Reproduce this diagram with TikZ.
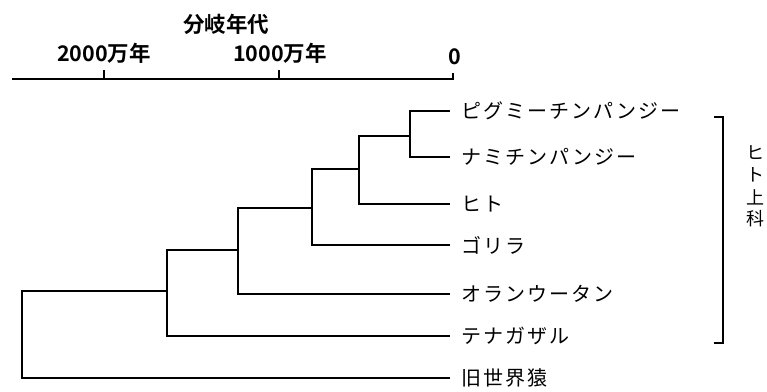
\documentclass[tikz,border=0pt]{standalone}
\usepackage{fontspec}
\setmainfont{Noto Sans CJK JP}
\newfontfamily\lblfont[LetterSpace=10]{Noto Sans CJK JP}
\newfontfamily\axfont{Noto Sans CJK JP Bold}
\begin{document}
\begin{tikzpicture}[x=1pt,y=-1pt,
  branch/.style={line width=1.3pt, line cap=rect},
  axisline/.style={line width=2.4pt},
  leaf/.style={anchor=west, inner sep=0pt, font=\lblfont\fontsize{20}{22}\selectfont},
  axlabel/.style={inner sep=0pt, font=\axfont\fontsize{21.5}{23}\selectfont},
  vchar/.style={inner sep=0pt, font=\fontsize{18}{19}\selectfont}]
\useasboundingbox (0,0) rectangle (767,391);
% axis
\node[axlabel] (title) at (226,24) {分岐年代};
\node[axlabel] (t2000) at (104,53) {2000万年};
\node[axlabel] (t1000) at (280,53) {1000万年};
\node[axlabel] (t0) at (455,57) {0};
\coordinate (axL) at (12,79);
\coordinate (axR) at (453,79);
\draw[axisline] (axL) -- (axR);
\draw[line width=1.6pt] (104,79) -- (104,70);
\draw[line width=1.6pt] (279,79) -- (279,70);
\draw[line width=1.6pt] (453,80) -- (453,73);
% leaves
\node[leaf] (pyg) at (461,111) {ピグミーチンパンジー};
\node[leaf] (nami) at (461,157) {ナミチンパンジー};
\node[leaf] (hito) at (461,204) {ヒト};
\node[leaf] (gor) at (461,245) {ゴリラ};
\node[leaf] (ora) at (461,294) {オランウータン};
\node[leaf] (gib) at (461,336) {テナガザル};
\node[leaf] (owm) at (461,378) {旧世界猿};
% internal nodes
\coordinate (n1) at (410,136);
\coordinate (n2) at (359,169);
\coordinate (n3) at (312,208);
\coordinate (n4) at (238,250);
\coordinate (n5) at (167,291);
\coordinate (n6) at (22,0);
% tree
\draw[branch] ([xshift=-12pt]pyg.west) -| (n1) |- ([xshift=-12pt]nami.west);
\draw[branch] (n1) -- (n1 -| n2);
\draw[branch] (n1 -| n2) |- ([xshift=-12pt]hito.west);
\draw[branch] (n2) -- (n2 -| n3);
\draw[branch] (n2 -| n3) |- ([xshift=-12pt]gor.west);
\draw[branch] (n3) -- (n3 -| n4);
\draw[branch] (n3 -| n4) |- ([xshift=-12pt]ora.west);
\draw[branch] (n4) -- (n4 -| n5);
\draw[branch] (n4 -| n5) |- ([xshift=-12pt]gib.west);
\draw[branch] (n5) -- (n5 -| n6);
\draw[branch] (n5 -| n6) |- ([xshift=-12pt]owm.west);
% bracket
\coordinate (bT) at (723,117);
\coordinate (bB) at (723,343);
\draw[line width=1.2pt] ([xshift=-9pt]bT) -- (bT) -- (bB) -- ([xshift=-9pt]bB);
\node[vchar] (v1) at (755,153) {ヒ};
\node[vchar] (v2) at (755,175) {ト};
\node[vchar] (v3) at (755,197) {上};
\node[vchar] (v4) at (755,219) {科};
\end{tikzpicture}
\end{document}
